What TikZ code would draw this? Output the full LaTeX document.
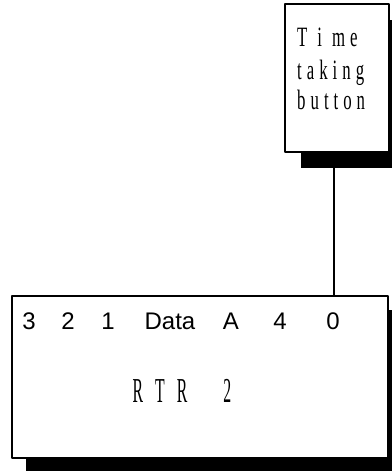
\documentclass[tikz,border=0pt]{standalone}
\usepackage{fontspec}
\setmainfont{Liberation Serif}
\newfontfamily\labelsans{Liberation Sans}
\newfontfamily\narrowtop[FakeStretch=0.6]{Liberation Serif}
\newfontfamily\narrowrtr[FakeStretch=0.45]{Liberation Serif}
\usetikzlibrary{shadows}

\tikzset{
  unitbox/.style={draw, line width=2pt, fill=white, inner sep=0pt,
    drop shadow={shadow xshift=#1, shadow yshift=-#1, fill=black, opacity=1}},
  topline/.style={anchor=base west, inner sep=0pt,
    font=\narrowtop\fontsize{28}{31}\selectfont,
    execute at begin node={\spaceskip=5pt\relax}},
  bitlabel/.style={anchor=base, inner sep=0pt,
    font=\labelsans\fontsize{24}{28}\selectfont},
}

\begin{document}
\begin{tikzpicture}[x=1pt, y=1pt, line cap=round, line join=round]
  \useasboundingbox (0,0) rectangle (391,471);
  % The button box, with its label set one line per node.
  \node[unitbox=16pt, minimum width=104pt, minimum height=148pt] (button) at (337,393) {};
  \node[topline] (lineone) at (297,424) {T~ i~ m e};
  \node[topline] (linetwo) at (297,391) {t a k i n g};
  \node[topline] (linethree) at (297,361) {b u t t o n};
  % The register unit below it.
  \node[unitbox=14pt, minimum width=376pt, minimum height=162pt] (rtr) at (200,94) {};
  % Bit row along the top of the register.
  \foreach \x/\t/\n in {29/3/bthree, 68/2/btwo, 108/1/bone, 170/Data/bdata,
      231/A/ba, 280/4/bfour, 333/0/bzero}
    \node[bitlabel] (\n) at (\x,141) {\t};
  \node[anchor=base, inner sep=0pt, font=\narrowrtr\fontsize{35}{40}\selectfont,
    execute at begin node={\spaceskip=12pt\relax}] (rtrname) at (182,68) {R T R~~ 2};
  % Wire from the button down to the register.
  \draw[line width=1.5pt] ([xshift=-3pt]button.south) -- ([xshift=-3pt]button.south |- rtr.north);
\end{tikzpicture}
\end{document}
